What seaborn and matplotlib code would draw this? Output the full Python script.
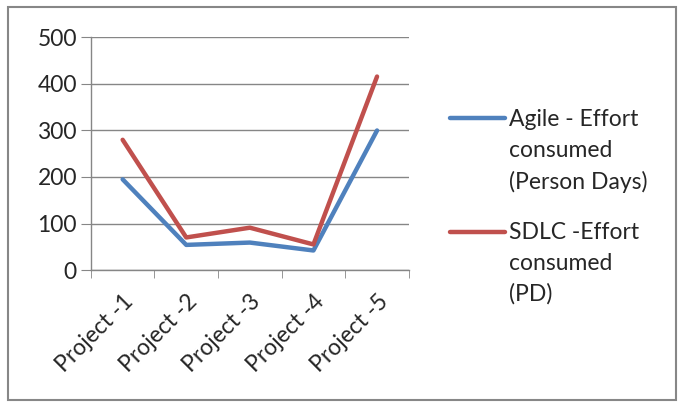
import pandas as pd
import matplotlib
matplotlib.use("Agg")
import matplotlib.pyplot as plt
import seaborn as sns
from matplotlib.patches import Rectangle

# datos
projects = ["Project -1", "Project -2", "Project -3", "Project -4", "Project -5"]
agile = [195, 54, 59, 42, 300]
sdlc = [280, 70, 91, 55, 416]
series_names = ["Agile - Effort\nconsumed\n(Person Days)", "SDLC -Effort\nconsumed\n(PD)"]
colors = ["#4F81BD", "#C0504D"]
yticks = [0, 100, 200, 300, 400, 500]

df = pd.DataFrame({
    "project": projects * 2,
    "effort": agile + sdlc,
    "series": [series_names[0]] * len(projects) + [series_names[1]] * len(projects),
})

sns.set_style("white")
plt.rcParams["font.family"] = ["Lato", "DejaVu Sans"]

fig = plt.figure(figsize=(6.78, 4.03), dpi=100)
ax = fig.add_axes([0.134, 0.33, 0.469, 0.577])

sns.lineplot(data=df, x="project", y="effort", hue="series", palette=colors,
             linewidth=3.2, sort=False, ax=ax, solid_capstyle="round")

# ejes estilo excel
ax.set_ylim(0, 500)
ax.set_xlim(-0.5, len(projects) - 0.5)
ax.set_yticks(yticks)
ax.yaxis.grid(True, color="#868686", linewidth=1)
ax.xaxis.grid(False)
ax.set_axisbelow(True)
for s in ["top", "right"]:
    ax.spines[s].set_visible(False)
for s in ["left", "bottom"]:
    ax.spines[s].set_color("#868686")
    ax.spines[s].set_linewidth(1)
ax.set_xlabel("")
ax.set_ylabel("")

ax.tick_params(axis="y", length=7, color="#868686", labelsize=16.5, pad=3, left=True)
ax.set_xticks(range(len(projects)))
ax.set_xticklabels(projects, rotation=45, ha="right", rotation_mode="anchor", fontsize=16.5)
ax.tick_params(axis="x", length=0, pad=15)
# marcas entre categorias
ax.set_xticks([i - 0.5 for i in range(len(projects) + 1)], minor=True)
ax.tick_params(axis="x", which="minor", length=6, color="#868686", bottom=True)

# leyenda
leg = ax.legend(loc="upper left", bbox_to_anchor=(0.633, 0.78), bbox_transform=fig.transFigure,
                frameon=False, fontsize=16.5, handlelength=2.4, handletextpad=0.2,
                labelspacing=1.3, handleheight=1.0)
for col in leg._legend_handle_box.get_children():
    for hp in col.get_children():
        hp.align = "top"
for t in leg.get_texts():
    t.set_linespacing(1.55)
for line in leg.get_lines():
    line.set_linewidth(3.2)

# borde del grafico
fig.patches.append(Rectangle((8 / 678, 3 / 403), 668 / 678, 393 / 403, transform=fig.transFigure,
                             fill=False, edgecolor="#878787", linewidth=1.5))

fig.savefig("out.png", dpi=100)
